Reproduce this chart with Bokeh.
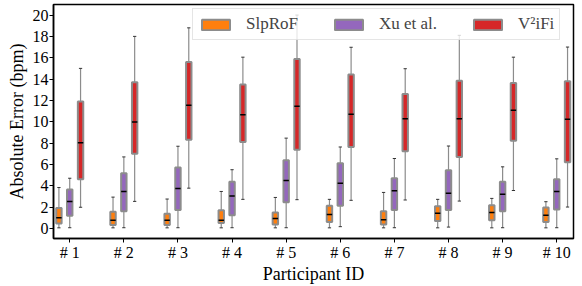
import numpy as np
from bokeh.plotting import figure
from bokeh.models import ColumnDataSource, Range1d, FixedTicker, Legend, LegendItem
from bokeh.embed import file_html
from bokeh.resources import INLINE

participants = ["# 1", "# 2", "# 3", "# 4", "# 5", "# 6", "# 7", "# 8", "# 9", "# 10"]
positions = list(range(1, 11))
y_ticks = [0, 2, 4, 6, 8, 10, 12, 14, 16, 18, 20]

# SlpRoF
slp_low = [0.05, 0.05, 0.05, 0.05, 0.05, 0.05, 0.05, 0.05, 0.05, 0.05]
slp_q1 = [0.45, 0.31, 0.31, 0.50, 0.37, 0.59, 0.37, 0.68, 0.77, 0.59]
slp_med = [1.00, 0.77, 0.77, 0.77, 0.93, 1.30, 0.80, 1.42, 1.48, 1.24]
slp_q3 = [1.92, 1.55, 1.36, 1.70, 1.48, 2.13, 1.61, 2.07, 2.16, 1.95]
slp_high = [3.83, 2.93, 2.75, 3.46, 2.90, 2.72, 3.37, 2.72, 2.81, 2.50]

# Xu et al.
xu_low = [0.06, 0.06, 0.06, 0.06, 0.06, 0.16, 0.06, 0.12, 0.06, 0.06]
xu_q1 = [1.18, 1.60, 1.73, 1.24, 2.44, 2.13, 1.73, 1.73, 1.60, 1.76]
xu_med = [2.53, 3.46, 3.74, 3.03, 4.48, 4.23, 3.52, 3.30, 3.21, 3.46]
xu_q3 = [3.65, 5.16, 5.71, 4.36, 6.39, 6.11, 4.69, 5.46, 4.38, 4.60]
xu_high = [4.70, 6.70, 7.70, 5.50, 8.46, 7.63, 6.55, 7.72, 5.77, 6.52]

# V2iFi
v2_low = [1.98, 2.53, 3.77, 2.72, 2.69, 2.63, 2.66, 2.56, 3.55, 2.00]
v2_q1 = [4.60, 7.00, 8.30, 8.10, 7.38, 7.63, 7.22, 6.70, 8.22, 6.20]
v2_med = [8.03, 9.97, 11.55, 10.65, 11.45, 10.71, 10.28, 10.28, 11.08, 10.22]
v2_q3 = [11.90, 13.70, 15.60, 13.50, 15.87, 14.42, 12.60, 13.83, 13.64, 13.80]
v2_high = [15.00, 18.00, 18.80, 16.05, 20.00, 16.98, 14.97, 18.10, 16.05, 17.00]

series = [
    ("SlpRoF", "#ff7f0e", -0.2, slp_low, slp_q1, slp_med, slp_q3, slp_high),
    ("Xu et al.", "#9467bd", 0.0, xu_low, xu_q1, xu_med, xu_q3, xu_high),
    ("V\u00b2iFi", "#d62728", 0.2, v2_low, v2_q1, v2_med, v2_q3, v2_high),
]

FONT = "Liberation Serif"
p = figure(width=576, height=286, output_backend="svg", toolbar_location=None,
           x_range=Range1d(0.7, 10.31), y_range=Range1d(-0.95, 20.99),
           min_border_left=53, min_border_right=3, min_border_top=4, min_border_bottom=44)

box_w = 0.1
cap_w = 0.06
items = []
for name, color, off, lo, q1, med, q3, hi in series:
    x = np.array(positions, dtype=float) + off
    src = ColumnDataSource(dict(x=x, lo=lo, q1=q1, med=med, q3=q3, hi=hi,
                                xl=x - box_w / 2, xr=x + box_w / 2,
                                cl=x - cap_w / 2, cr=x + cap_w / 2))
    p.segment(x0="x", y0="q3", x1="x", y1="hi", source=src, line_color="#8c8c8c", line_width=1.2)
    p.segment(x0="x", y0="lo", x1="x", y1="q1", source=src, line_color="#8c8c8c", line_width=1.2)
    p.segment(x0="cl", y0="hi", x1="cr", y1="hi", source=src, line_color="#333333", line_width=1)
    p.segment(x0="cl", y0="lo", x1="cr", y1="lo", source=src, line_color="#333333", line_width=1)
    r = p.vbar(x="x", width=box_w, bottom="q1", top="q3", source=src,
               fill_color=color, line_color="#8c8c8c", line_width=2)
    p.segment(x0="xl", y0="med", x1="xr", y1="med", source=src, line_color="black", line_width=1.5)
    items.append(LegendItem(label=name, renderers=[r]))

legend = Legend(items=items, orientation="horizontal", location=(139, 198),
                label_text_font=FONT, label_text_font_size="17px",
                glyph_width=35, glyph_height=13, label_standoff=13,
                label_width=0, spacing=33, padding=5,
                border_line_color="#cccccc", border_line_width=1,
                background_fill_alpha=0.8)
p.add_layout(legend, "center")

p.xgrid.visible = False
p.ygrid.visible = False

xax = p.xaxis[0]
yax = p.yaxis[0]
xax.ticker = FixedTicker(ticks=positions)
xax.major_label_overrides = {pos: lab for pos, lab in zip(positions, participants)}
yax.ticker = FixedTicker(ticks=y_ticks)

for ax in (xax, yax):
    ax.major_label_text_font = FONT
    ax.major_label_text_font_size = "16px"
    ax.major_label_text_color = "black"
    ax.axis_label_text_font = FONT
    ax.axis_label_text_font_size = "18px"
    ax.axis_label_text_font_style = "normal"
    ax.axis_label_text_color = "black"
    ax.axis_line_color = "black"
    ax.axis_line_width = 1.5
    ax.major_tick_line_color = "black"
    ax.major_tick_in = 0
    ax.major_tick_out = 4
    ax.minor_tick_line_color = None
    ax.major_label_standoff = 1
    ax.axis_label_standoff = 0

xax.axis_label = "Participant ID"
yax.axis_label = "Absolute Error (bpm)"
yax.axis_label_standoff = 3
p.outline_line_color = "black"
p.outline_line_width = 1.5
p.outline_line_alpha = 1

open("out.html", "w").write(file_html(p, INLINE))
